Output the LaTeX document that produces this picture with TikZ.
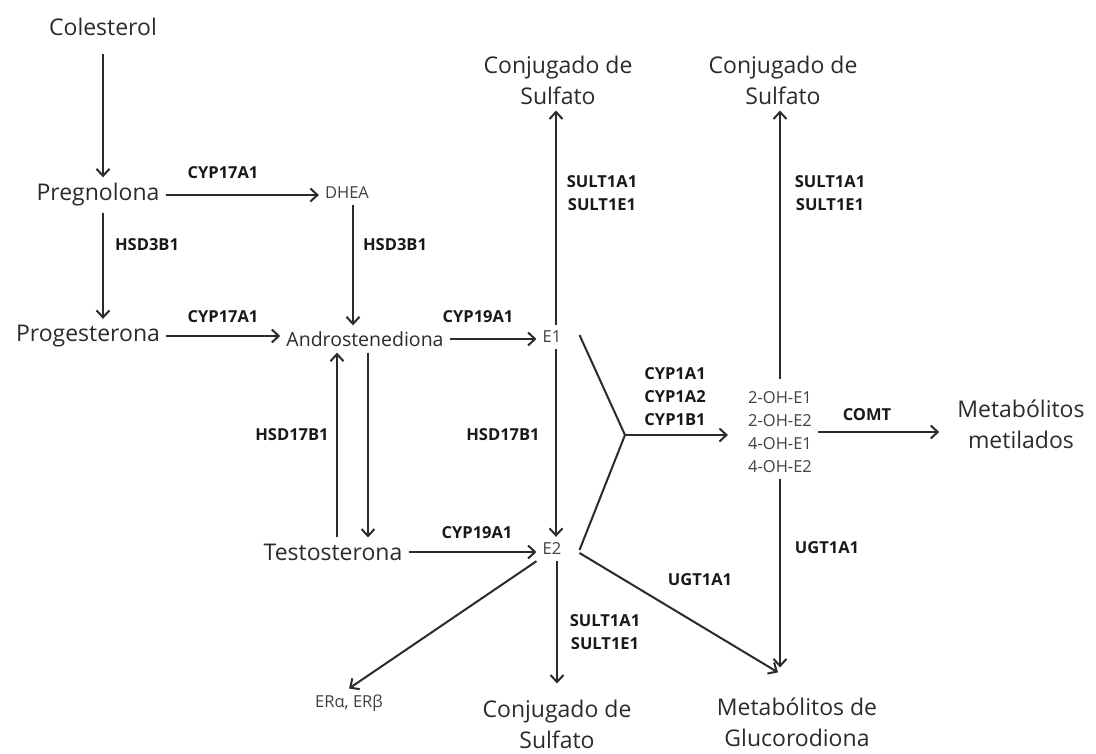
\documentclass[tikz,border=0pt]{standalone}
\usepackage{fontspec}
\setmainfont{Open Sans}
\usetikzlibrary{arrows.meta}
\definecolor{ink}{HTML}{2B2B2B}
\definecolor{soft}{HTML}{404040}
\tikzset{
  big/.style={text=ink, font=\fontsize{23}{31}\selectfont, align=center, inner sep=6pt},
  mid/.style={text=ink, font=\fontsize{19.5}{25}\selectfont, align=center, inner sep=6pt},
  small/.style={text=soft, font=\fontsize{16.5}{23}\selectfont, align=center, inner sep=6pt},
  enz/.style={text=black!90, font=\bfseries\fontsize{16.5}{23}\selectfont, align=center, inner sep=0pt},
  arr/.style={draw=ink, line width=2pt, -{Straight Barb[length=7pt,width=13pt,line width=2pt]}},
  ln/.style={draw=ink, line width=2pt},
}
\begin{document}
\begin{tikzpicture}[x=1pt,y=-1pt]
	\useasboundingbox[fill=white] (0,0) rectangle (1096,754);
	% compounds
	\node[big] (col) at (103,27) {Colesterol};
	\node[big] (preg) at (98,195) {Pregnolona};
	\node[small] (dhea) at (347,193) {DHEA};
	\node[big] (prog) at (88,336) {Progesterona};
	\node[mid] (andro) at (365,339) {Androstenediona};
	\node[small] (e1) at (552,337) {E1};
	\node[big] (conja) at (558,80) {Conjugado de\\Sulfato};
	\node[big] (conjb) at (783,80) {Conjugado de\\Sulfato};
	\node[big] (testo) at (333,552) {Testosterona};
	\node[small] (e2) at (552,549) {E2};
	\node[small] (er) at (349,703) {ERα, ERβ};
	\node[big] (conjc) at (557,724) {Conjugado de\\Sulfato};
	\node[small] (oh) at (780,432) {2-OH-E1\\2-OH-E2\\4-OH-E1\\4-OH-E2};
	\node[big] (metil) at (1021,424) {Metabólitos\\metilados};
	\node[big] (gluc) at (797,722) {Metabólitos de\\Glucorodiona};
	\coordinate (fk) at (625,435);
	% steroidogenesis
	\draw[arr, shorten <=12pt] (col) -- (col |- preg.north);
	\draw[arr] (preg.east) -- (preg.east -| dhea.west);
	\node[enz] (cypa) at (223,173) {CYP17A1};
	\draw[arr] (col |- preg.south) -- (col |- prog.north);
	\node[enz] (hsda) at (147,245) {HSD3B1};
	\draw[arr] ([xshift=6pt]dhea.south) -- ([xshift=6pt]dhea.south |- andro.north);
	\node[enz] (hsdb) at (395,245) {HSD3B1};
	\draw[arr] (prog.east) -- (prog.east -| andro.west);
	\node[enz] (cypb) at (223,317) {CYP17A1};
	\draw[arr] (andro.east) -- (andro.east -| e1.west);
	\node[enz] (cypc) at (478,317) {CYP19A1};
	\draw[arr] ([xshift=3pt]andro.south) -- ([xshift=3pt]andro.south |- testo.north);
	\draw[arr] ([xshift=4pt]testo.north) -- ([xshift=4pt]testo.north |- andro.south);
	\node[enz] (hsdc) at (292,435) {HSD17B1};
	\draw[arr] (testo.east) -- (testo.east -| e2.west);
	\node[enz] (cypd) at (477,533) {CYP19A1};
	% estrogens
	\draw[arr] ([xshift=4pt]e1.north) -- ([xshift=4pt]e1.north |- conja.south);
	\node[enz] (sulta) at (602,193) {SULT1A1\\SULT1E1};
	\draw[arr] ([xshift=4pt]e1.south) -- ([xshift=4pt]e1.south |- e2.north);
	\node[enz] (hsdd) at (503,435) {HSD17B1};
	\draw[arr] (e2.south west) -- (er.north);
	\draw[arr, shorten >=10pt] ([xshift=5pt]e2.south) -- ([xshift=5pt]e2.south |- conjc.north);
	\node[enz] (sultc) at (605,632) {SULT1A1\\SULT1E1};
	\draw[arr] ([xshift=12pt,yshift=-4pt]e2.east) -- ([xshift=-19pt,yshift=19pt]gluc.north);
	\node[enz] (ugtb) at (700,580) {UGT1A1};
	% hydroxylation
	\draw[ln] ([xshift=12pt,yshift=2pt]e1.east) -- (fk) -- ([xshift=12pt,yshift=-1pt]e2.east);
	\draw[arr, shorten >=14pt] (fk) -- (fk -| oh.west);
	\node[enz] (cype) at (675,397) {CYP1A1\\CYP1A2\\CYP1B1};
	\draw[arr, shorten <=6pt] (oh.north) -- (oh.north |- conjb.south);
	\node[enz] (sultb) at (830,193) {SULT1A1\\SULT1E1};
	\draw[arr, shorten >=24pt] (oh.south) -- (oh.south |- gluc.north);
	\node[enz] (ugta) at (827,548) {UGT1A1};
	\draw[arr, shorten >=12pt] (oh.east) -- (oh.east -| metil.west);
	\node[enz] (comt) at (867,415) {COMT};
\end{tikzpicture}
\end{document}
